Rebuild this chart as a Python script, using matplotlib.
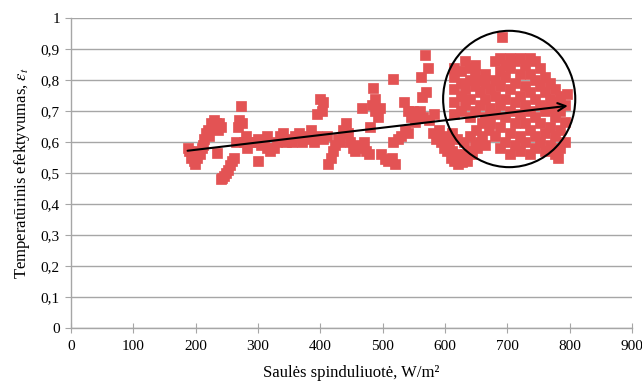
import matplotlib
matplotlib.use("Agg")
import matplotlib.pyplot as plt
from matplotlib.patches import Ellipse

plt.rcParams['font.family'] = ['Liberation Serif', 'DejaVu Serif']
plt.rcParams['mathtext.fontset'] = 'stix'

# ---- data ----
# left part: 185-410 W/m2
x_left = [188, 190, 192, 195, 197, 199, 202, 205, 207, 210, 212,
          214, 217, 220, 222, 225, 228, 230, 233, 236, 238, 240, 234,
          240, 243, 246, 249, 252, 255, 258, 261, 265,
          272, 270, 275, 268,
          278, 283, 288, 280, 295, 300, 305, 310, 315, 320, 325, 315,
          330, 335, 340, 345, 350, 355, 360, 365, 370, 375, 380, 385, 390,
          395, 405, 300, 400, 405, 403, 395]
y_left = [0.58, 0.57, 0.55, 0.56, 0.54, 0.53, 0.55, 0.57, 0.56, 0.58, 0.59,
          0.61, 0.63, 0.64, 0.62, 0.66, 0.65, 0.67, 0.66, 0.64, 0.66, 0.65, 0.565,
          0.48, 0.485, 0.49, 0.50, 0.51, 0.525, 0.54, 0.55, 0.60,
          0.715, 0.67, 0.66, 0.65,
          0.60, 0.58, 0.60, 0.62, 0.60, 0.61, 0.59, 0.60, 0.58, 0.57, 0.58, 0.62,
          0.60, 0.62, 0.63, 0.60, 0.61, 0.60, 0.62, 0.63, 0.60, 0.61, 0.62, 0.64, 0.60,
          0.62, 0.61, 0.54, 0.74, 0.73, 0.70, 0.69]

# middle part: 410-606 W/m2
x_mid = [410, 413, 417, 420, 424, 428, 432, 437, 441, 444, 448, 452, 456, 460,
         465, 470, 474, 478, 467, 485, 483, 488, 493, 496, 480, 487,
         498, 503, 508, 515, 520, 517, 524, 530, 536, 541, 535, 540, 517,
         548, 555, 565, 575, 583, 568, 572, 562, 570, 563, 545, 552, 560,
         580, 586, 590, 594, 598, 600, 603, 606]
y_mid = [0.62, 0.53, 0.55, 0.57, 0.59, 0.61, 0.60, 0.64, 0.66, 0.63, 0.60, 0.58, 0.57, 0.59,
         0.58, 0.60, 0.57, 0.56, 0.71, 0.775, 0.72, 0.70, 0.68, 0.71, 0.65, 0.74,
         0.56, 0.545, 0.54, 0.55, 0.53, 0.60, 0.61, 0.62, 0.64, 0.63, 0.73, 0.70, 0.805,
         0.70, 0.69, 0.68, 0.67, 0.69, 0.88, 0.84, 0.81, 0.76, 0.745, 0.68, 0.665, 0.70,
         0.63, 0.61, 0.64, 0.60, 0.58, 0.62, 0.57, 0.60]

# lower arm under the circle: 608-670 W/m2
x_arm = [609, 612, 615, 618, 621, 625, 628, 632, 636, 640, 644, 648, 652, 656,
         660, 664, 612, 620, 630, 640, 650, 660, 670]
y_arm = [0.55, 0.57, 0.54, 0.56, 0.53, 0.55, 0.535, 0.56, 0.54, 0.57, 0.56, 0.59, 0.58, 0.60,
         0.62, 0.59, 0.63, 0.61, 0.60, 0.62, 0.64, 0.66, 0.64]

# dense cluster inside the circle: 612-800 W/m2
x_blob = [615, 615, 615, 615, 615,
          625, 625, 625, 625,
          632, 632, 632,
          640, 640, 640, 640,
          648, 648, 648, 648,
          656, 656, 656,
          664, 664, 664, 664,
          672, 672, 672,
          680, 680, 680, 680, 680,
          688, 688, 688, 688, 688, 688,
          696, 696, 696, 696, 696,
          704, 704, 704, 704, 704, 704,
          712, 712, 712, 712, 712,
          720, 720, 720, 720, 720, 720,
          728, 728, 728, 728, 728,
          736, 736, 736, 736, 736, 736,
          744, 744, 744, 744, 744, 744,
          752, 752, 752, 752, 752,
          760, 760, 760, 760, 760,
          768, 768, 768, 768, 768,
          776, 776, 776, 776, 776,
          784, 784, 784, 784,
          792, 792, 792,
          795, 782, 692]
y_blob = [0.69, 0.73, 0.77, 0.81, 0.84,
          0.70, 0.75, 0.79, 0.83,
          0.72, 0.77, 0.86,
          0.68, 0.74, 0.80, 0.84,
          0.70, 0.78, 0.82, 0.85,
          0.72, 0.76, 0.80,
          0.68, 0.74, 0.79, 0.82,
          0.66, 0.71, 0.77,
          0.62, 0.69, 0.75, 0.80, 0.86,
          0.58, 0.65, 0.72, 0.78, 0.83, 0.87,
          0.60, 0.68, 0.74, 0.81, 0.85,
          0.56, 0.63, 0.70, 0.77, 0.84, 0.87,
          0.59, 0.66, 0.73, 0.79, 0.86,
          0.57, 0.62, 0.69, 0.75, 0.82, 0.87,
          0.60, 0.66, 0.72, 0.78, 0.85,
          0.56, 0.64, 0.70, 0.76, 0.82, 0.87,
          0.58, 0.62, 0.68, 0.74, 0.80, 0.86,
          0.60, 0.66, 0.72, 0.78, 0.84,
          0.57, 0.63, 0.70, 0.76, 0.81,
          0.59, 0.65, 0.71, 0.74, 0.79,
          0.56, 0.62, 0.68, 0.73, 0.77,
          0.58, 0.64, 0.70, 0.75,
          0.60, 0.665, 0.72,
          0.755, 0.55, 0.94]

# trend arrow (start, end) and highlight circle (centre, size in data units)
trend_x = [187, 797]
trend_y = [0.572, 0.717]
circle_center = (703, 0.739)
circle_w, circle_h = 212, 0.44

x_ticks = [0, 100, 200, 300, 400, 500, 600, 700, 800, 900]
y_ticks = [0, 0.1, 0.2, 0.3, 0.4, 0.5, 0.6, 0.7, 0.8, 0.9, 1.0]
y_tick_labels = ['0', '0,1', '0,2', '0,3', '0,4', '0,5', '0,6', '0,7', '0,8', '0,9', '1']

x_all = x_left + x_mid + x_arm + x_blob
y_all = y_left + y_mid + y_arm + y_blob

fig = plt.figure(figsize=(6.42, 3.85), dpi=100)
ax = fig.add_axes([0.1106, 0.148, 0.8738, 0.805])

ax.plot(x_all, y_all, linestyle='none', marker='s', markersize=7.4,
        markerfacecolor='#E35354', markeredgecolor='#E35354', markeredgewidth=0.5,
        zorder=3)

ax.annotate('', xy=(trend_x[1], trend_y[1]), xytext=(trend_x[0], trend_y[0]),
            arrowprops=dict(arrowstyle='->', color='black', lw=1.5,
                            mutation_scale=14, shrinkA=0, shrinkB=0),
            zorder=5)
ax.add_patch(Ellipse(circle_center, circle_w, circle_h, fill=False,
                     edgecolor='black', lw=1.5, zorder=5))

ax.set_xlim(0, 900)
ax.set_ylim(0, 1)
ax.set_xticks(x_ticks)
ax.set_xticklabels([str(v) for v in x_ticks])
ax.set_yticks(y_ticks)
ax.set_yticklabels(y_tick_labels)

ax.grid(axis='y', color='#A6A6A6', lw=1.0, zorder=0)
ax.set_axisbelow(True)
for s in ['top', 'right']:
    ax.spines[s].set_visible(False)
for s in ['left', 'bottom']:
    ax.spines[s].set_color('#A6A6A6')
    ax.spines[s].set_linewidth(1.0)

ax.tick_params(axis='x', direction='inout', length=7, color='#A6A6A6',
               labelsize=11, pad=5)
ax.tick_params(axis='y', direction='out', length=4, color='#A6A6A6',
               labelsize=11, pad=4)

ax.set_xlabel('Saulės spinduliuotė, W/m²', fontsize=12, labelpad=9)
ax.set_ylabel(r'Temperatūrinis efektyvumas, $\varepsilon_t$', fontsize=12, labelpad=6)

fig.savefig('out.png', dpi=100)
